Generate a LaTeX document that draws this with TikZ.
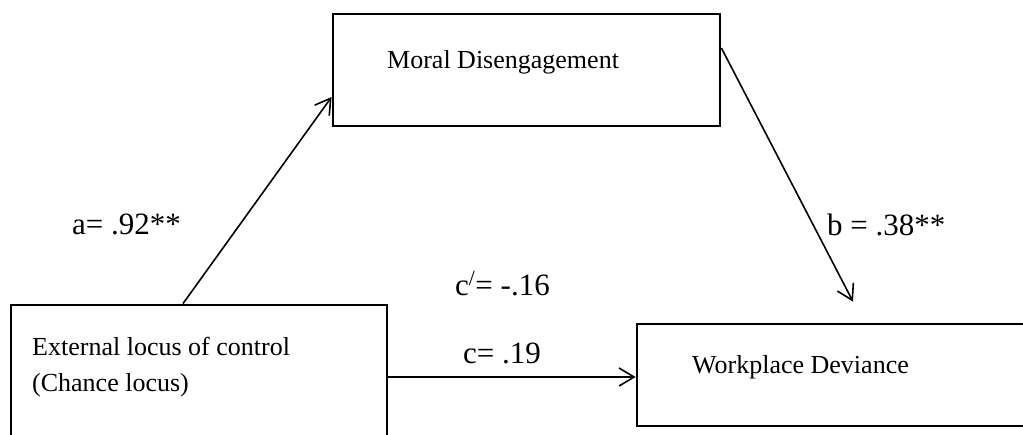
\documentclass[tikz,border=0pt]{standalone}
\usepackage{fontspec}
\setmainfont{Liberation Serif}
\usetikzlibrary{arrows.meta}

\begin{document}
\begin{tikzpicture}[
        x=1pt, y=-1pt,
        varbox/.style={
            draw=black,
            line width=2.8pt,
            inner sep=0pt
        },
        vartext/.style={
            anchor=base west,
            inner sep=0pt,
            align=left,
            font=\fontsize{26}{36}\selectfont
        },
        coef/.style={
            anchor=base west,
            inner sep=0pt,
            font=\fontsize{31}{36}\selectfont
        },
        path/.style={
            -{Straight Barb[length=15pt,width=18pt]},
            line width=1.6pt,
            draw=black
        }
    ]
        \fill[white] (0,0) rectangle (1023,434);
        \clip (0,0) rectangle (1023,434);

        \node[varbox, minimum width=387pt, minimum height=112pt] (moral) at (526.5,70) {};
        \node[vartext] (moraltext) at (387,68) {Moral Disengagement};
        \node[varbox, minimum width=376pt, minimum height=144pt] (locus) at (199,377) {};
        \node[vartext] (locustext) at (32,391)
            {External locus of control\\(Chance locus)};
        \node[varbox, minimum width=424pt, minimum height=102pt] (deviance) at (849,375) {};
        \node[vartext] (deviancetext) at (692,373) {Workplace Deviance};

        \node[coef] (apath) at (72,234) {a= .92**};
        \node[coef] (bpath) at (827,235) {b = .38**};
        \node[coef] (cprime) at (455,295) {c\textsuperscript{/}= -.16};
        \node[coef] (cpath) at (463,363) {c= .19};

        \draw[path] ([xshift=-16pt]locus.north) -- ([yshift=-27pt]moral.west);
        \draw[path] ([yshift=22pt]moral.east) -- ([shift={(4pt,21pt)}]deviance.north);
        \draw[path] (locus.east) -- (locus.east -| deviance.west);
    \end{tikzpicture}
\end{document}
